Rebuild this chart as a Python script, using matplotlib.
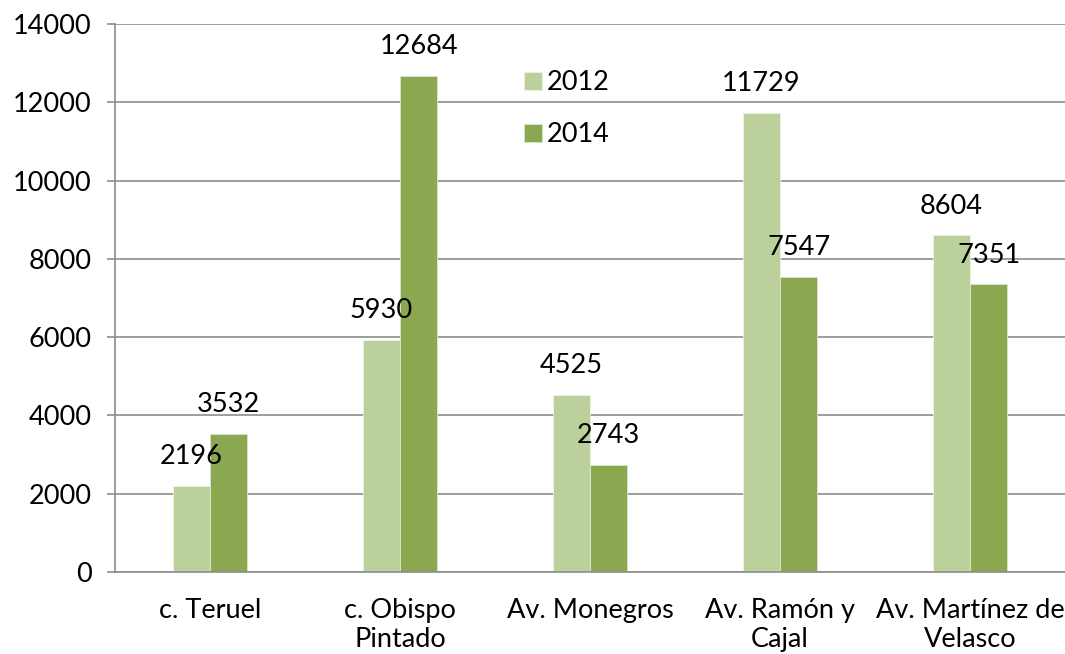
import numpy as np
import matplotlib
matplotlib.use("Agg")
import matplotlib.pyplot as plt

# values
streets = ["c. Teruel", "c. Obispo\nPintado", "Av. Monegros",
           "Av. Ramón y\nCajal", "Av. Martínez de\nVelasco"]
vals_2012 = [2196, 5930, 4525, 11729, 8604]
vals_2014 = [3532, 12684, 2743, 7547, 7351]
years = ["2012", "2014"]
yticks = [0, 2000, 4000, 6000, 8000, 10000, 12000, 14000]

light = "#BBD09A"
dark = "#8BA850"
grey = "#8C8C8C"

plt.rcParams['font.family'] = ['Lato', 'DejaVu Sans']

fig = plt.figure(figsize=(10.65, 6.54), dpi=100)
ax = fig.add_axes([0.108, 0.1254, 0.892, 0.8379])

x = np.arange(len(streets))
w = 0.197
b1 = ax.bar(x - w/2, vals_2012, w, color=light, edgecolor="#EEF3E6",
            linewidth=0.6, label=years[0], zorder=2)
b2 = ax.bar(x + w/2, vals_2014, w, color=dark, edgecolor="#DDE6CC",
            linewidth=0.6, label=years[1], zorder=2)

for bars, vals in ((b1, vals_2012), (b2, vals_2014)):
  for r, v in zip(bars, vals):
    ax.annotate(str(v), (r.get_x() + r.get_width()/2, v),
                xytext=(0, 12), textcoords="offset points",
                ha="center", va="bottom", fontsize=19.5, zorder=3)

ax.set_xlim(-0.5, len(streets) - 0.5)
ax.set_ylim(0, 14000)
ax.set_yticks(yticks)
ax.set_xticks(x)
ax.set_xticklabels(streets, fontsize=19.5, linespacing=1.2)
ax.tick_params(axis="y", labelsize=19.5, length=6, width=1.2, color=grey, pad=11)
ax.tick_params(axis="x", length=0, pad=19)
ax.yaxis.grid(True, color=grey, linewidth=1.2, zorder=0)
ax.set_axisbelow(True)
for s in ("top", "right"):
  ax.spines[s].set_visible(False)
for s in ("left", "bottom"):
  ax.spines[s].set_color(grey)
  ax.spines[s].set_linewidth(1.2)

ax.legend(loc="upper left", bbox_to_anchor=(0.405, 0.96), frameon=False,
          fontsize=19.5, handlelength=0.65, handleheight=0.65,
          handletextpad=0.2, labelspacing=1.0)

fig.savefig("out.png", dpi=100)
